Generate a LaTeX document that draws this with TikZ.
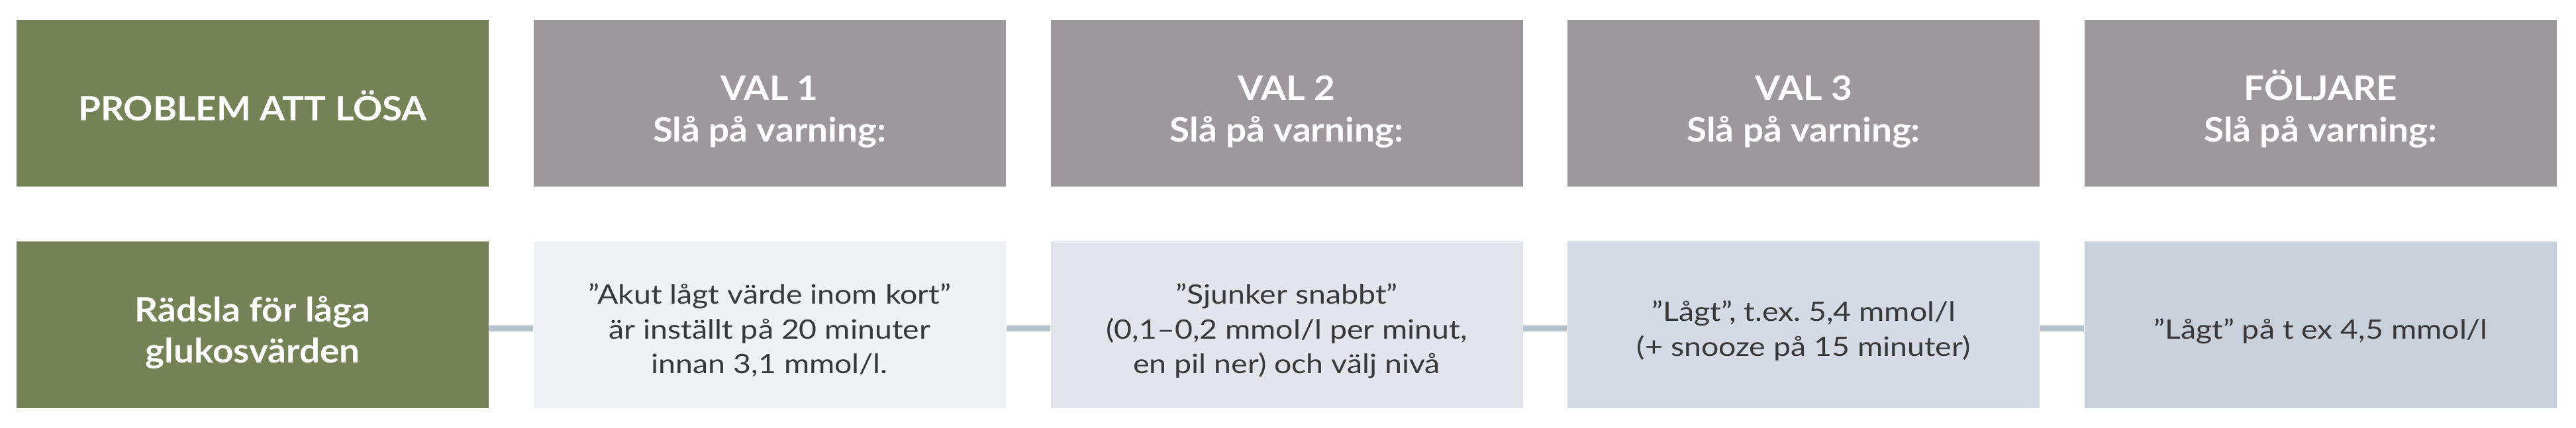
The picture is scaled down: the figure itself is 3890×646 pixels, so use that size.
\documentclass[tikz,border=0pt]{standalone}
\usepackage{fontspec}
\setmainfont{Lato}[FakeStretch=1.15, BoldFeatures={FakeStretch=1.08}]
\frenchspacing
\definecolor{probgreen}{HTML}{748256}
\definecolor{headgray}{HTML}{9D989C}
\definecolor{fillA}{HTML}{F0F1F5}
\definecolor{fillB}{HTML}{E2E6EC}
\definecolor{fillC}{HTML}{D4DBE4}
\definecolor{fillD}{HTML}{C8D0DA}
\definecolor{connblue}{HTML}{B4C2CE}
\definecolor{bodytext}{HTML}{38383A}
% fixed struts so every cell centres its text the same way
\newcommand{\hdtop}{\rule{0pt}{16.4pt}}
\newcommand{\hdbot}{\rule[-3pt]{0pt}{3pt}}
\newcommand{\bdtop}{\rule{0pt}{13.5pt}}
\newcommand{\bdbot}{\rule[-2.75pt]{0pt}{2.75pt}}
\tikzset{
  cell/.style={rectangle, inner sep=0pt, minimum width=178.25pt, minimum height=63pt, align=center},
  headcell/.style={cell, fill=headgray, text=white, font=\fontsize{12.7}{15.6}\selectfont\bfseries},
  probcell/.style={cell, fill=probgreen, text=white, font=\fontsize{12.7}{15.6}\selectfont\bfseries},
  bodycell/.style={cell, text=bodytext, font=\fontsize{10.1}{13.15}\selectfont},
  conn/.style={draw=connblue, line width=2.4pt}
}
\begin{document}
\begin{tikzpicture}[x=0.25pt, y=-0.25pt]
\useasboundingbox (0,0) rectangle (3890,646);
% top row
\node[probcell] (ph) at (381.5,156) {\hdtop PROBLEM ATT LÖSA\hdbot};
\node[headcell] (h1) at (1162.25,156) {\hdtop VAL 1\\Slå på varning:\hdbot};
\node[headcell] (h2) at (1943,156) {\hdtop VAL 2\\Slå på varning:\hdbot};
\node[headcell] (h3) at (2723.75,156) {\hdtop VAL 3\\Slå på varning:\hdbot};
\node[headcell] (h4) at (3504.5,156) {\hdtop FÖLJARE\\Slå på varning:\hdbot};
% bottom row
\node[probcell] (pb) at (381.5,490.5) {\hdtop Rädsla för låga\\glukosvärden\hdbot};
\node[bodycell, fill=fillA] (b1) at (1162.25,490.5) {\bdtop ”Akut lågt värde inom kort”\\är inställt på 20 minuter\\innan 3,1 mmol/l.\bdbot};
\node[bodycell, fill=fillB] (b2) at (1943,490.5) {\bdtop ”Sjunker snabbt”\\(0,1–0,2 mmol/l per minut,\\en pil ner) och välj nivå\bdbot};
\node[bodycell, fill=fillC] (b3) at (2723.75,490.5) {\bdtop ”Lågt”, t.ex. 5,4 mmol/l\\(+ snooze på 15 minuter)\bdbot};
\node[bodycell, fill=fillD] (b4) at (3504.5,490.5) {\bdtop ”Lågt” på t ex 4,5 mmol/l\bdbot};
% connectors
\draw[conn] ([yshift=-1.5pt]pb.east) -- ([yshift=-1.5pt]b1.west);
\draw[conn] ([yshift=-1.5pt]b1.east) -- ([yshift=-1.5pt]b2.west);
\draw[conn] ([yshift=-1.5pt]b2.east) -- ([yshift=-1.5pt]b3.west);
\draw[conn] ([yshift=-1.5pt]b3.east) -- ([yshift=-1.5pt]b4.west);
\end{tikzpicture}
\end{document}
